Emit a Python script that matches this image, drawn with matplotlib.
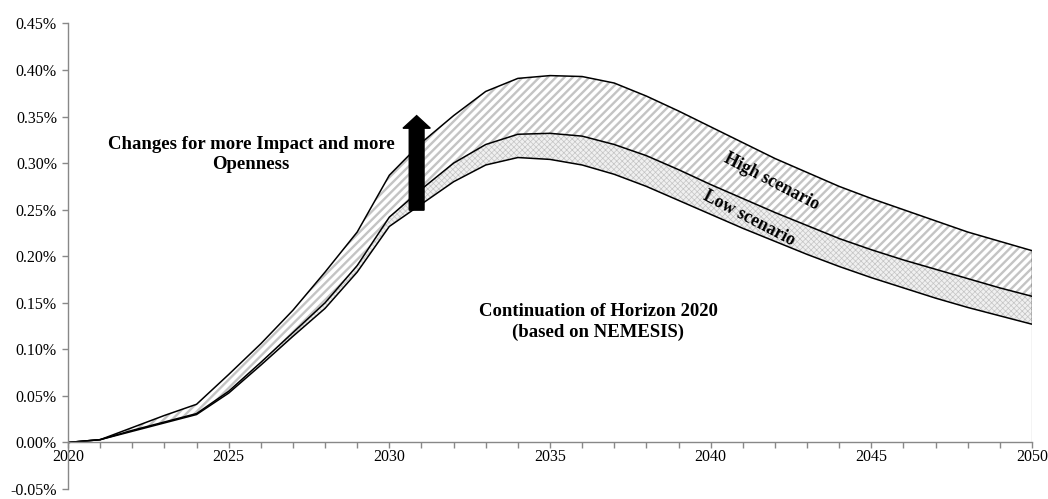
import numpy as np
import matplotlib.pyplot as plt
from matplotlib.ticker import FixedLocator, FuncFormatter

years = np.arange(2020, 2051)

# upper edge of high scenario
high = [0, 0.003, 0.016, 0.029, 0.041, 0.073, 0.106, 0.142, 0.183, 0.226, 0.287,
        0.322, 0.351, 0.377, 0.391, 0.394, 0.393, 0.386, 0.372, 0.356, 0.339,
        0.322, 0.305, 0.290, 0.275, 0.262, 0.250, 0.238, 0.226, 0.216, 0.206]
# upper edge of low scenario
mid = [0, 0.003, 0.013, 0.022, 0.031, 0.055, 0.086, 0.118, 0.150, 0.190, 0.242,
       0.272, 0.300, 0.320, 0.331, 0.332, 0.329, 0.320, 0.308, 0.293, 0.277,
       0.262, 0.247, 0.233, 0.219, 0.207, 0.196, 0.186, 0.176, 0.166, 0.157]
# continuation of Horizon 2020
base = [0, 0.003, 0.012, 0.021, 0.030, 0.053, 0.083, 0.114, 0.144, 0.183, 0.232,
        0.256, 0.280, 0.298, 0.306, 0.304, 0.298, 0.288, 0.275, 0.260, 0.245,
        0.230, 0.216, 0.202, 0.189, 0.177, 0.166, 0.155, 0.145, 0.136, 0.127]

y_ticks = np.arange(-0.05, 0.451, 0.05)
x_labels = [2020, 2025, 2030, 2035, 2040, 2045, 2050]

plt.rcParams['font.family'] = ['Liberation Serif', 'DejaVu Serif']

fig = plt.figure(figsize=(10.48, 4.99), dpi=100)
ax = fig.add_axes([0.0649, 0.02, 0.9198, 0.933])

# hatched bands
plt.rcParams['hatch.linewidth'] = 1.7
ax.fill_between(years, mid, high, facecolor='white', edgecolor='#c4c4c4',
                hatch='////', linewidth=0)
plt.rcParams['hatch.linewidth'] = 0.5
ax.fill_between(years, base, mid, facecolor='#f0f0f0', edgecolor='#c4c4c4',
                hatch='xxxxxx', linewidth=0)

for s in (high, mid, base):
    ax.plot(years, s, color='black', lw=1.1)

ax.vlines(2050, base[-1], high[-1], color='black', lw=1.0)
ax.vlines(2050, 0, base[-1], color='#c8c8c8', lw=1.0)

# arrow
ax.arrow(2030.85, 0.2495, 0, 0.088, width=0.46, head_width=0.85,
         head_length=0.0135, length_includes_head=False, color='black')

bold = dict(fontweight='bold', fontsize=13.5, ha='center', va='center')
ax.text(2025.7, 0.309, 'Changes for more Impact and more\nOpenness',
        linespacing=1.25, **bold)
ax.text(2036.5, 0.1295, 'Continuation of Horizon 2020\n(based on NEMESIS)',
        linespacing=1.25, **bold)
ax.text(2041.9, 0.280, 'High scenario', rotation=-27.5, rotation_mode='anchor',
        fontweight='bold', fontsize=12.8, ha='center', va='center')
ax.text(2041.2, 0.241, 'Low scenario', rotation=-27.5, rotation_mode='anchor',
        fontweight='bold', fontsize=12.8, ha='center', va='center')

ax.set_xlim(2020, 2050)
ax.set_ylim(-0.05, 0.45)

ax.spines['top'].set_visible(False)
ax.spines['right'].set_visible(False)
ax.spines['bottom'].set_position(('data', 0))
for sp in ('left', 'bottom'):
    ax.spines[sp].set_color('#888888')
    ax.spines[sp].set_linewidth(1.0)

ax.xaxis.set_major_locator(FixedLocator(years))
ax.xaxis.set_major_formatter(FuncFormatter(lambda v, p: str(int(round(v))) if int(round(v)) in x_labels else ''))
ax.yaxis.set_major_locator(FixedLocator(y_ticks))
ax.yaxis.set_major_formatter(FuncFormatter(lambda v, p: f'{v:.2f}%'))

ax.tick_params(axis='x', direction='out', length=4, width=1, color='#888888',
               labelsize=11.5, pad=0.5)
ax.tick_params(axis='y', direction='out', length=4, width=1, color='#888888',
               labelsize=11.5, pad=4)

fig.savefig('out.png', dpi=100)
